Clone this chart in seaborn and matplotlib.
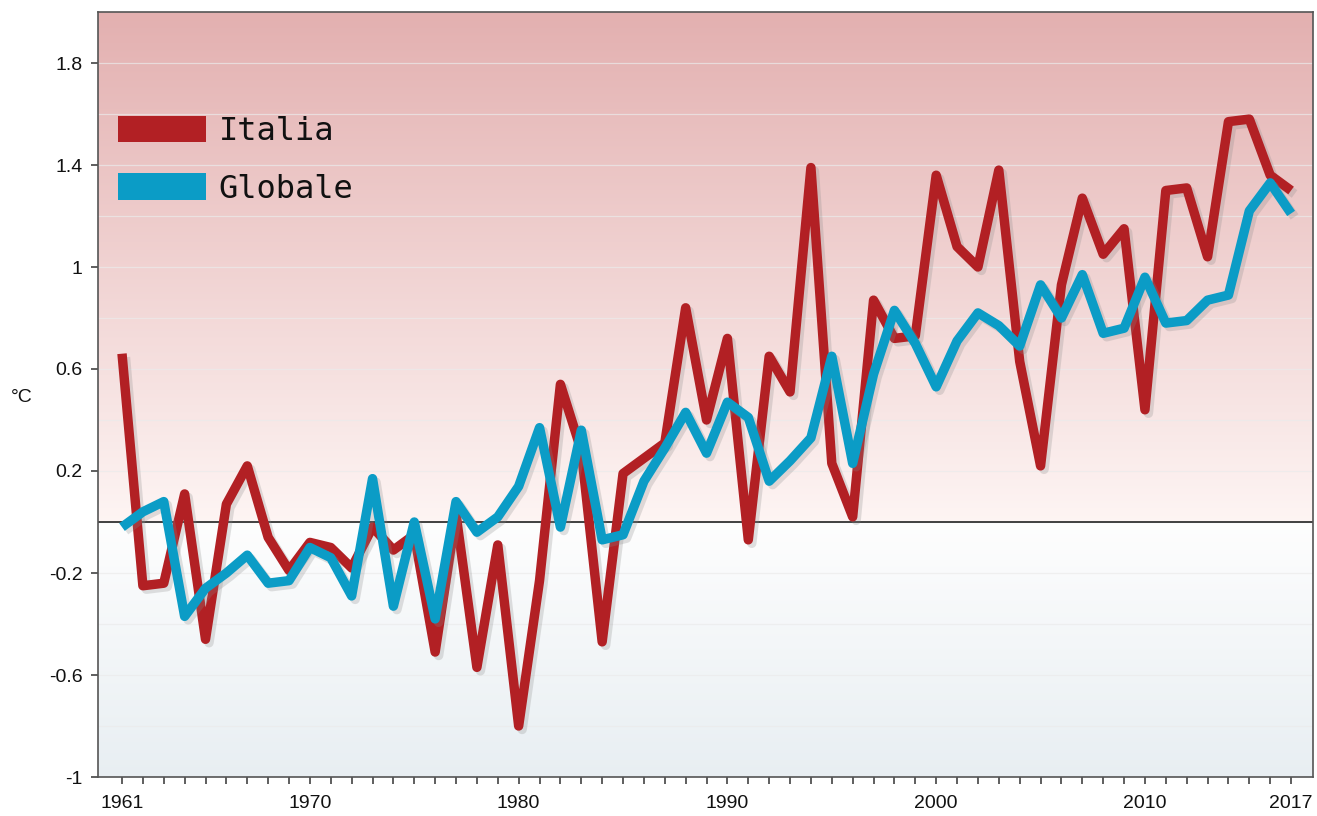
import numpy as np
import pandas as pd
import matplotlib
matplotlib.use("Agg")
import matplotlib.pyplot as plt
import seaborn as sns
from matplotlib.patches import Patch
import matplotlib.patheffects as pe
from matplotlib.ticker import FixedLocator

years = list(range(1961, 2018))
italia = [0.66, -0.25, -0.24, 0.11, -0.46, 0.07, 0.22, -0.06, -0.19, -0.08,
          -0.10, -0.18, -0.02, -0.11, -0.05, -0.51, 0.03, -0.57, -0.09, -0.80,
          -0.23, 0.54, 0.28, -0.47, 0.19, 0.25, 0.31, 0.84, 0.40, 0.72,
          -0.07, 0.65, 0.51, 1.39, 0.23, 0.02, 0.87, 0.72, 0.73, 1.36,
          1.08, 1.00, 1.38, 0.63, 0.22, 0.93, 1.27, 1.05, 1.15, 0.44,
          1.30, 1.31, 1.04, 1.57, 1.58, 1.36, 1.30]
globale = [-0.02, 0.04, 0.08, -0.37, -0.26, -0.20, -0.13, -0.24, -0.23, -0.10,
           -0.14, -0.29, 0.17, -0.33, 0.00, -0.38, 0.08, -0.04, 0.02, 0.14,
           0.37, -0.02, 0.36, -0.07, -0.05, 0.16, 0.29, 0.43, 0.27, 0.47,
           0.41, 0.16, 0.24, 0.33, 0.65, 0.23, 0.58, 0.83, 0.70, 0.53,
           0.71, 0.82, 0.77, 0.69, 0.93, 0.80, 0.97, 0.74, 0.76, 0.96,
           0.78, 0.79, 0.87, 0.89, 1.22, 1.33, 1.21]
series_names = ["Italia", "Globale"]
series_colors = ["#b22024", "#0b9cc6"]
xtick_labels = [1961, 1970, 1980, 1990, 2000, 2010, 2017]
ytick_values = [-1, -0.6, -0.2, 0.2, 0.6, 1, 1.4, 1.8]
ytick_labels = ["-1", "-0.6", "-0.2", "0.2", "0.6", "1", "1.4", "1.8"]

df = pd.DataFrame({
    "anno": years * 2,
    "valore": italia + globale,
    "serie": ["Italia"] * len(years) + ["Globale"] * len(years),
})

sns.set_style("ticks")
plt.rcParams["font.family"] = ["Liberation Sans", "DejaVu Sans"]

fig = plt.figure(figsize=(13.17, 8.16), dpi=100)
ax = fig.add_axes([98 / 1317, 1 - 777 / 816, 1215 / 1317, 765 / 816])

xmin, xmax = 1959.85, 2018.05
ymin, ymax = -1.0, 2.0

# background gradient
yy = np.linspace(ymax, ymin, 600)
top = np.array([0.89, 0.69, 0.69])
pink0 = np.array([0.995, 0.96, 0.955])
white = np.array([0.995, 0.995, 0.995])
bottom = np.array([0.91, 0.935, 0.95])
img = np.zeros((len(yy), 1, 3))
for i, v in enumerate(yy):
    if v >= 0:
        t = v / ymax
        img[i, 0] = pink0 + (top - pink0) * t
    else:
        t = -v / 1.0
        img[i, 0] = white + (bottom - white) * t
ax.imshow(img, extent=[xmin, xmax, ymin, ymax], aspect="auto", zorder=0,
          interpolation="bilinear")

for g in np.arange(-0.8, 2.0, 0.2):
    ax.axhline(g, color="#ebebeb", lw=0.9, alpha=0.7, zorder=1)
ax.axhline(0, color="#222222", lw=1.2, zorder=2)

shadow = [pe.SimpleLineShadow(offset=(2.5, -2.5), shadow_color="#888888", alpha=0.25),
          pe.Normal()]
sns.lineplot(data=df[df.serie == "Italia"], x="anno", y="valore", ax=ax,
             color=series_colors[0], lw=6.8, legend=False, zorder=3,
             path_effects=shadow)
sns.lineplot(data=df[df.serie == "Globale"], x="anno", y="valore", ax=ax,
             color=series_colors[1], lw=6.8, legend=False, zorder=4,
             path_effects=shadow)
for ln in ax.lines[-2:]:
    ln.set_solid_joinstyle("round")
    ln.set_solid_capstyle("butt")

ax.set_xlim(xmin, xmax)
ax.set_ylim(ymin, ymax)
ax.set_xlabel("")
ax.set_ylabel("")

ax.xaxis.set_major_locator(FixedLocator(xtick_labels))
ax.xaxis.set_minor_locator(FixedLocator(years))
ax.set_xticklabels([str(v) for v in xtick_labels])
ax.set_yticks(ytick_values)
ax.set_yticklabels(ytick_labels)
ax.tick_params(axis="both", which="both", direction="out", length=5, width=1.1,
               color="#333333", labelsize=14, labelcolor="#111111")
ax.tick_params(axis="x", which="major", pad=8)
ax.tick_params(axis="y", which="major", pad=6)

for s in ax.spines.values():
    s.set_visible(True)
    s.set_color("#555555")
    s.set_linewidth(1.2)

fig.text(22 / 1317, 1 - 397 / 816, "°C", fontsize=14, ha="center", va="center",
         color="#111111")

handles = [Patch(facecolor=c, edgecolor="none") for c in series_colors]
leg = ax.legend(handles, series_names, loc="upper left",
                bbox_to_anchor=(0.006, 0.881), frameon=False,
                prop={"family": "DejaVu Sans Mono", "size": 23},
                handlelength=2.75, handleheight=0.9, handletextpad=0.4,
                labelspacing=0.82, borderaxespad=0)
for t in leg.get_texts():
    t.set_color("#111111")

fig.savefig("out.png", dpi=100)
